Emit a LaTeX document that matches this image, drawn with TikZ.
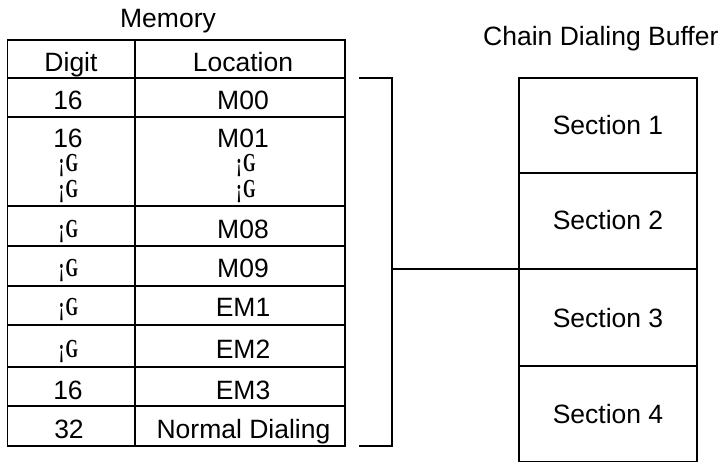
\documentclass[tikz,border=0pt]{standalone}
\usepackage{fontspec}
\setmainfont{Liberation Sans}
\newfontfamily\glyfont{Liberation Serif}
\newcommand{\dotsym}{\scalebox{0.62}[1]{\glyfont\bfseries\fontsize{26}{26}\selectfont ¡\hspace{2pt}G}}
\begin{document}
\begin{tikzpicture}[x=1pt,y=-1pt,
  ln/.style={line width=1.4pt},
  txt/.style={font=\fontsize{26.5}{30}\selectfont, anchor=base, inner sep=0pt},
  gly/.style={anchor=base, inner sep=0pt}]
\useasboundingbox (0,0) rectangle (723,462);
\clip (0,0) rectangle (723,462);
% titles
\node[txt] (memt) at (168,28) {Memory};
\node[txt,anchor=base west] (buft) at (483,46) {Chain Dialing Buffer};
% table grid
\coordinate (tl) at (7.5,40);
\coordinate (br) at (345,446);
\draw[ln] (tl) rectangle (br);
\draw[ln] (135,40) -- (135,446);
\foreach \yy in {78,117,206,246,286,325,367,406}
  \draw[ln] (7.5,\yy) -- (345,\yy);
% header
\node[txt] (hd) at (71,72) {Digit};
\node[txt] (hl) at (243,72) {Location};
% rows
\node[txt] (d1) at (68,110) {16};
\node[txt] (l1) at (243,110) {M00};
\node[txt] (d2) at (68,148) {16};
\node[txt] (l2) at (243,148) {M01};
\node[gly] (d2a) at (68.5,172) {\dotsym};
\node[gly] (d2b) at (68.5,198) {\dotsym};
\node[gly] (l2a) at (246,172) {\dotsym};
\node[gly] (l2b) at (246,198) {\dotsym};
\node[gly] (d3) at (68.5,238) {\dotsym};
\node[txt] (l3) at (243,239) {M08};
\node[gly] (d4) at (68.5,277) {\dotsym};
\node[txt] (l4) at (243,278) {M09};
\node[gly] (d5) at (68.5,316) {\dotsym};
\node[txt] (l5) at (243,317) {EM1};
\node[gly] (d6) at (68.5,358) {\dotsym};
\node[txt] (l6) at (243,359) {EM2};
\node[txt] (d7) at (68,399) {16};
\node[txt] (l7) at (243,399) {EM3};
\node[txt] (d8) at (69,438) {32};
\node[txt] (l8) at (243.5,438) {Normal Dialing};
% buffer
\coordinate (bt) at (519,78);
\coordinate (bb) at (697,462);
\draw[ln] (bt) rectangle (bb);
\draw[ln] (519,173) -- (697,173);
\draw[ln] (519,269) -- (697,269);
\draw[ln] (519,366) -- (697,366);
\node[txt] (s1) at (608,135) {Section 1};
\node[txt] (s2) at (608,230) {Section 2};
\node[txt] (s3) at (608,327) {Section 3};
\node[txt] (s4) at (608,423) {Section 4};
% bracket
\coordinate (bra) at (359,78);
\coordinate (brb) at (359,446);
\coordinate (brm) at (392,269);
\coordinate (bre) at (519,269);
\draw[ln] (bra) -- (392,78) -- (392,446) -- (brb);
\draw[ln] (brm) -- (bre);
\end{tikzpicture}
\end{document}
